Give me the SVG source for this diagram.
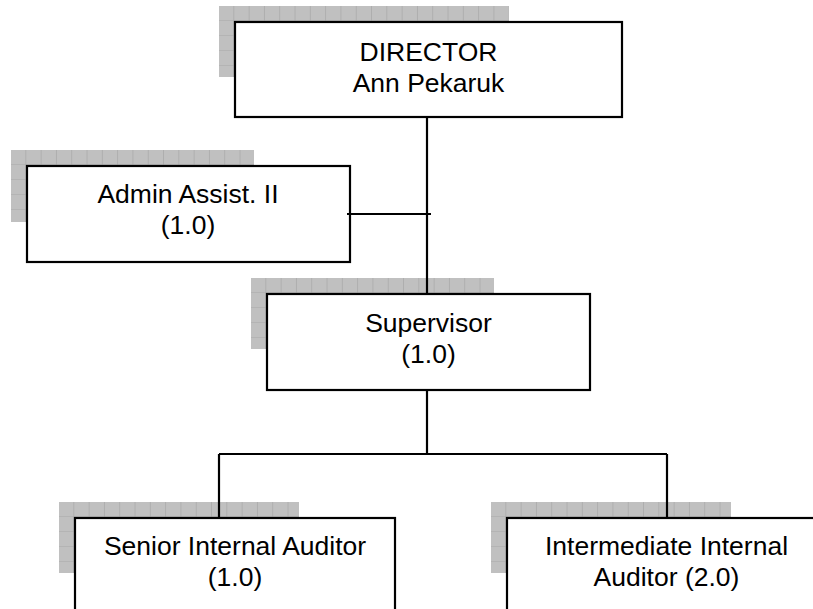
<svg xmlns="http://www.w3.org/2000/svg" width="813" height="609" viewBox="0 0 813 609">
<style>
.box{fill:#fff;stroke:#000;stroke-width:2.2}
.shadow{fill:url(#grid)}
.lbl{font-family:"Liberation Sans",Arial,sans-serif;font-size:26.5px;fill:#000;text-anchor:middle}
.conn{fill:none;stroke:#000;stroke-width:2.2}
</style>
<defs>
<pattern id="grid" patternUnits="userSpaceOnUse" width="15.3" height="15">
<rect width="15.3" height="15" fill="#c0c0c0"/>
<rect x="14.6" y="0" width="1" height="15" fill="#a8a8a8"/>
<rect x="0" y="14.5" width="15.3" height="1" fill="#a8a8a8"/>
</pattern>
</defs>
<rect width="813" height="609" fill="#fff"/>
<g id="director">
<rect class="shadow" x="0" y="0" width="290" height="71" transform="translate(219,6)"/>
<rect class="box" x="235" y="22" width="387" height="95"/>
<text class="lbl" x="428.5" y="61">DIRECTOR</text>
<text class="lbl" x="428.5" y="92">Ann Pekaruk</text>
</g>
<g id="admin">
<rect class="shadow" x="0" y="0" width="243" height="72" transform="translate(11,150)"/>
<rect class="box" x="27" y="166" width="323" height="96"/>
<text class="lbl" x="188" y="203">Admin Assist. II</text>
<text class="lbl" x="188" y="234">(1.0)</text>
</g>
<g id="supervisor">
<rect class="shadow" x="0" y="0" width="243" height="71" transform="translate(251,278)"/>
<rect class="box" x="267" y="294" width="323" height="96"/>
<text class="lbl" x="428.5" y="332">Supervisor</text>
<text class="lbl" x="428.5" y="363">(1.0)</text>
</g>
<g id="senior">
<rect class="shadow" x="0" y="0" width="240" height="71" transform="translate(59,502)"/>
<rect class="box" x="75" y="518" width="320" height="110"/>
<text class="lbl" x="235" y="555">Senior Internal Auditor</text>
<text class="lbl" x="235" y="586">(1.0)</text>
</g>
<g id="intermediate">
<rect class="shadow" x="0" y="0" width="240" height="71" transform="translate(491,502)"/>
<rect class="box" x="507" y="518" width="320" height="110"/>
<text class="lbl" x="666.5" y="555">Intermediate Internal</text>
<text class="lbl" x="666.5" y="586">Auditor (2.0)</text>
</g>
<g id="connectors">
<path class="conn" d="M427 117V294"/>
<path class="conn" d="M347 214H431"/>
<path class="conn" d="M427 390V454"/>
<path class="conn" d="M219 454H667"/>
<path class="conn" d="M219 454V518"/>
<path class="conn" d="M667 454V518"/>
</g>
</svg>
